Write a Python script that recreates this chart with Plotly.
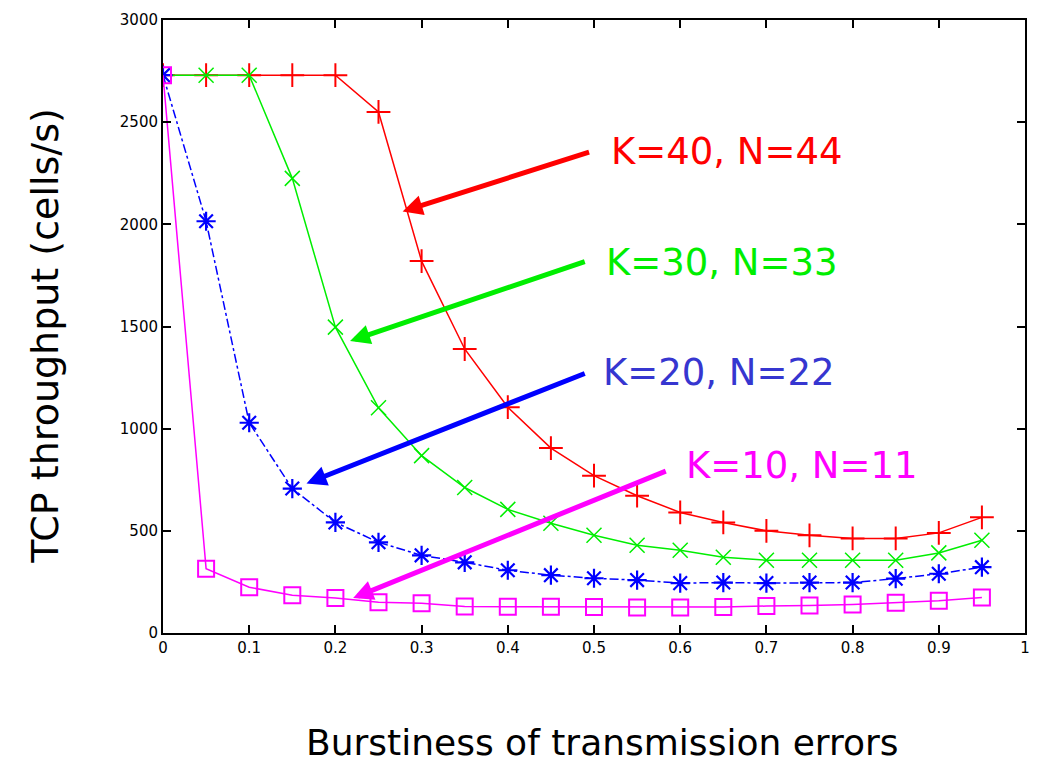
import plotly.graph_objects as go

x_vals = [0.0, 0.05, 0.1, 0.15, 0.2, 0.25, 0.3, 0.35, 0.4, 0.45,
          0.5, 0.55, 0.6, 0.65, 0.7, 0.75, 0.8, 0.85, 0.9, 0.95]

k40 = [2730, 2730, 2730, 2730, 2730, 2550, 1820, 1390, 1105, 905,
       770, 672, 590, 541, 500, 478, 463, 463, 490, 566]
k30 = [2730, 2730, 2730, 2225, 1497, 1102, 868, 712, 605, 537,
       478, 429, 405, 371, 356, 356, 356, 356, 392, 454]
k20 = [2730, 2015, 1029, 707, 541, 444, 380, 346, 307, 283,
       268, 259, 244, 247, 244, 247, 247, 266, 290, 322]
k10 = [2730, 315, 224, 185, 171, 151, 146, 130, 128, 128,
       127, 125, 125, 127, 132, 134, 140, 148, 158, 174]

x_ticks = [0, 0.1, 0.2, 0.3, 0.4, 0.5, 0.6, 0.7, 0.8, 0.9, 1]
y_ticks = [0, 500, 1000, 1500, 2000, 2500, 3000]

labels = ["K=40, N=44", "K=30, N=33", "K=20, N=22", "K=10, N=11"]

fig = go.Figure()

fig.add_trace(go.Scatter(x=x_vals, y=k40, mode="lines+markers", name=labels[0],
                         line=dict(color="#ff0000", width=1.5),
                         marker=dict(symbol="cross-thin", size=17, line=dict(color="#ff0000", width=2))))
fig.add_trace(go.Scatter(x=x_vals, y=k30, mode="lines+markers", name=labels[1],
                         line=dict(color="#00ee00", width=1.5),
                         marker=dict(symbol="x-thin", size=15, line=dict(color="#00ee00", width=1.5))))
fig.add_trace(go.Scatter(x=x_vals, y=k20, mode="lines+markers", name=labels[2],
                         line=dict(color="#0000ff", width=1.5, dash="dashdot"),
                         marker=dict(symbol="asterisk", size=16, line=dict(color="#0000ff", width=2.2))))
fig.add_trace(go.Scatter(x=x_vals, y=k10, mode="lines+markers", name=labels[3],
                         line=dict(color="#ff00ff", width=1.5),
                         marker=dict(symbol="square-open", size=16, color="#ff00ff", line=dict(color="#ff00ff", width=2))))

font_name = "DejaVu Sans"
arrows = [
    dict(tip=(0.278, 2063), tail=(0.496, 2356), text_pos=(0.517, 2356), color="#ff0000", tcolor="#ff0000", text=labels[0]),
    dict(tip=(0.217, 1429), tail=(0.491, 1820), text_pos=(0.512, 1815), color="#00ee00", tcolor="#00ee00", text=labels[1]),
    dict(tip=(0.1665, 732), tail=(0.491, 1273), text_pos=(0.508, 1273), color="#0000ff", tcolor="#3636d0", text=labels[2]),
    dict(tip=(0.2206, 171), tail=(0.585, 795), text_pos=(0.604, 820), color="#ff00ff", tcolor="#ff00ff", text=labels[3]),
]
for a in arrows:
    fig.add_annotation(x=a["tip"][0], y=a["tip"][1], ax=a["tail"][0], ay=a["tail"][1],
                       xref="x", yref="y", axref="x", ayref="y",
                       text="", showarrow=True, arrowhead=2, arrowsize=0.8,
                       arrowwidth=5, arrowcolor=a["color"])
    fig.add_annotation(x=a["text_pos"][0], y=a["text_pos"][1], xref="x", yref="y",
                       text=a["text"], showarrow=False, xanchor="left", yanchor="middle",
                       font=dict(family=font_name, size=37, color=a["tcolor"]))

# page body has an 8px margin; figure spans page pixels 8..1033 x 8..767
plot_w = 1030 - 163
plot_h = 633 - 18
fig.add_annotation(x=(605 - 163) / plot_w, y=-(743 - 633) / plot_h, xref="paper", yref="paper",
                   text="Burstiness of transmission errors", showarrow=False,
                   xanchor="center", yanchor="middle",
                   font=dict(family=font_name, size=36, color="black"))
fig.add_annotation(x=-(163 - 44) / plot_w, y=(633 - 335) / plot_h, xref="paper", yref="paper",
                   text="TCP throughput (cells/s)", showarrow=False, textangle=-90,
                   xanchor="center", yanchor="middle",
                   font=dict(family=font_name, size=38, color="black"))

axis_common = dict(showgrid=False, zeroline=False, showline=True, linecolor="black",
                   linewidth=2, mirror="ticks", ticks="inside", ticklen=8, tickwidth=2,
                   tickcolor="black",
                   tickfont=dict(family="DejaVu Sans", size=15, color="black"))

fig.update_xaxes(range=[0, 1], tickvals=x_ticks, ticktext=[str(t) for t in x_ticks], **axis_common)
fig.update_yaxes(range=[0, 3000], tickvals=y_ticks, ticktext=[str(t) for t in y_ticks], **axis_common)

fig.update_layout(width=1025, height=759, showlegend=False,
                  paper_bgcolor="white", plot_bgcolor="white",
                  margin=dict(l=155, r=3, t=10, b=134))

fig.write_html("out.html")
